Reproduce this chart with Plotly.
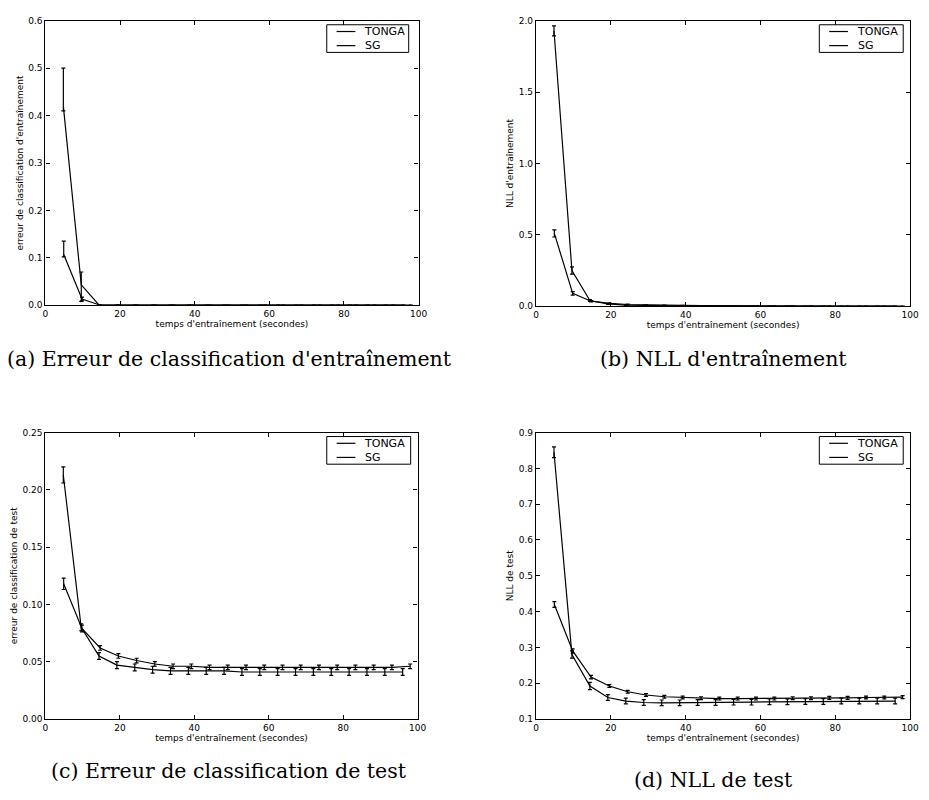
import plotly.graph_objects as go

# ---------------- data ----------------
x_tonga = [4.8, 9.6, 14.4, 19.2, 24.0, 28.8, 33.6, 38.4, 43.2, 48.0, 52.8, 57.6, 62.4, 67.2, 72.0, 76.8, 81.6, 86.4, 91.2, 96.0]
x_sg = [4.9, 9.8, 14.7, 19.6, 24.5, 29.4, 34.3, 39.2, 44.1, 49.0, 53.9, 58.8, 63.7, 68.6, 73.5, 78.4, 83.3, 88.2, 93.1, 98.0]

# (a) training classification error
a_tonga = [0.42, 0.043, 0.0, 0.0, 0.0, 0.0, 0.0, 0.0, 0.0, 0.0, 0.0, 0.0, 0.0, 0.0, 0.0, 0.0, 0.0, 0.0, 0.0, 0.0]
a_tonga_up = [0.08, 0.027, 0, 0, 0, 0, 0, 0, 0, 0, 0, 0, 0, 0, 0, 0, 0, 0, 0, 0]
a_tonga_dn = [0.01, 0.035, 0, 0, 0, 0, 0, 0, 0, 0, 0, 0, 0, 0, 0, 0, 0, 0, 0, 0]
a_sg = [0.107, 0.013, 0.0, 0.0, 0.0, 0.0, 0.0, 0.0, 0.0, 0.0, 0.0, 0.0, 0.0, 0.0, 0.0, 0.0, 0.0, 0.0, 0.0, 0.0]
a_sg_up = [0.028, 0.004, 0, 0, 0, 0, 0, 0, 0, 0, 0, 0, 0, 0, 0, 0, 0, 0, 0, 0]
a_sg_dn = [0.005, 0.004, 0, 0, 0, 0, 0, 0, 0, 0, 0, 0, 0, 0, 0, 0, 0, 0, 0, 0]

# (b) training NLL
b_tonga = [1.93, 0.25, 0.040, 0.016, 0.008, 0.005, 0.003, 0.002, 0.002, 0.001, 0.001, 0.001, 0.001, 0.001, 0.0005, 0.0005, 0.0005, 0.0005, 0.0005, 0.0005]
b_tonga_err = [0.035, 0.025, 0.006, 0.003, 0.002, 0.001, 0.001, 0.0, 0.0, 0.0, 0.0, 0.0, 0.0, 0.0, 0.0, 0.0, 0.0, 0.0, 0.0, 0.0]
b_sg = [0.51, 0.09, 0.035, 0.020, 0.012, 0.008, 0.006, 0.005, 0.004, 0.003, 0.003, 0.002, 0.002, 0.002, 0.002, 0.001, 0.001, 0.001, 0.001, 0.001]
b_sg_err = [0.025, 0.012, 0.005, 0.003, 0.002, 0.001, 0.001, 0.0, 0.0, 0.0, 0.0, 0.0, 0.0, 0.0, 0.0, 0.0, 0.0, 0.0, 0.0, 0.0]

# (c) test classification error
c_tonga = [0.213, 0.080, 0.055, 0.047, 0.045, 0.043, 0.042, 0.042, 0.042, 0.042, 0.041, 0.041, 0.041, 0.041, 0.041, 0.041, 0.041, 0.041, 0.041, 0.041]
c_tonga_err = [0.007, 0.003, 0.003, 0.003, 0.003, 0.003, 0.003, 0.003, 0.003, 0.003, 0.003, 0.003, 0.003, 0.003, 0.003, 0.003, 0.003, 0.003, 0.003, 0.003]
c_sg = [0.118, 0.079, 0.062, 0.055, 0.051, 0.048, 0.046, 0.046, 0.045, 0.045, 0.045, 0.045, 0.045, 0.045, 0.045, 0.045, 0.045, 0.045, 0.045, 0.046]
c_sg_err = [0.005, 0.003, 0.002, 0.002, 0.002, 0.002, 0.002, 0.002, 0.002, 0.002, 0.002, 0.002, 0.002, 0.002, 0.002, 0.002, 0.002, 0.002, 0.002, 0.002]

# (d) test NLL
d_tonga = [0.845, 0.28, 0.192, 0.160, 0.150, 0.146, 0.145, 0.145, 0.146, 0.146, 0.147, 0.147, 0.148, 0.148, 0.149, 0.149, 0.150, 0.150, 0.150, 0.150]
d_tonga_err = [0.015, 0.010, 0.010, 0.008, 0.008, 0.008, 0.008, 0.008, 0.008, 0.008, 0.008, 0.008, 0.008, 0.008, 0.008, 0.008, 0.008, 0.008, 0.008, 0.008]
d_sg = [0.420, 0.290, 0.217, 0.192, 0.176, 0.167, 0.162, 0.160, 0.158, 0.157, 0.157, 0.157, 0.157, 0.158, 0.158, 0.159, 0.159, 0.160, 0.160, 0.161]
d_sg_err = [0.008, 0.006, 0.005, 0.004, 0.004, 0.004, 0.004, 0.004, 0.004, 0.004, 0.004, 0.004, 0.004, 0.004, 0.004, 0.004, 0.004, 0.004, 0.004, 0.004]

series_names = ["TONGA", "SG"]
y_titles = ["erreur de classification d'entraînement", "NLL d'entraînement",
            "erreur de classification de test", "NLL de test"]
x_title = "temps d'entraînement (secondes)"
captions = ["(a) Erreur de classification d'entraînement", "(b) NLL d'entraînement",
            "(c) Erreur de classification de test", "(d) NLL de test"]
y_ranges = [[0, 0.6], [0, 2.0], [0, 0.25], [0.1, 0.9]]
y_tickvals = [[0.0, 0.1, 0.2, 0.3, 0.4, 0.5, 0.6], [0.0, 0.5, 1.0, 1.5, 2.0],
              [0.0, 0.05, 0.10, 0.15, 0.20, 0.25], [0.1, 0.2, 0.3, 0.4, 0.5, 0.6, 0.7, 0.8, 0.9]]
y_ticktext = [["0.0", "0.1", "0.2", "0.3", "0.4", "0.5", "0.6"], ["0.0", "0.5", "1.0", "1.5", "2.0"],
              ["0.00", "0.05", "0.10", "0.15", "0.20", "0.25"],
              ["0.1", "0.2", "0.3", "0.4", "0.5", "0.6", "0.7", "0.8", "0.9"]]
x_tickvals = [0, 20, 40, 60, 80, 100]

# ---------------- layout geometry (pixels) ----------------
W, H = 929, 800
boxes = [  # left, right, top, bottom
    (43, 421, 16, 304),
    (540, 919, 16, 305),
    (43, 420, 433, 723),
    (540, 919, 433, 723),
]
# legend boxes: left, right, top, bottom
legend_boxes = [
    (328, 411, 20, 48),
    (827, 912, 20, 48),
    (328, 413, 437, 465),
    (827, 912, 437, 465),
]
legend_font = 11
row_gap = 1.3 * legend_font
caption_pos = [(229, 358), (730, 358), (229, 776), (720, 785)]

series = [
    (a_tonga, a_tonga_up, a_tonga_dn, a_sg, a_sg_up, a_sg_dn),
    (b_tonga, b_tonga_err, b_tonga_err, b_sg, b_sg_err, b_sg_err),
    (c_tonga, c_tonga_err, c_tonga_err, c_sg, c_sg_err, c_sg_err),
    (d_tonga, d_tonga_err, d_tonga_err, d_sg, d_sg_err, d_sg_err),
]


def px(x):
    return x / W


def py(y):
    return 1 - y / H


fig = go.Figure()
tick_font = dict(family="DejaVu Sans", size=9, color="black")
layout = dict(width=W, height=H, margin=dict(l=0, r=0, t=0, b=0),
              paper_bgcolor="white", plot_bgcolor="white", showlegend=False,
              annotations=[], shapes=[])

for i in range(4):
    sfx = "" if i == 0 else str(i + 1)
    ty, tup, tdn, sy, sup, sdn = series[i]
    fig.add_trace(go.Scatter(
        x=x_tonga, y=ty, mode="lines", name=series_names[0],
        line=dict(color="black", width=1.2),
        error_y=dict(type="data", array=tup, arrayminus=tdn, symmetric=False,
                     color="black", thickness=1.2, width=2),
        xaxis="x" + sfx, yaxis="y" + sfx))
    fig.add_trace(go.Scatter(
        x=x_sg, y=sy, mode="lines", name=series_names[1],
        line=dict(color="black", width=1.2),
        error_y=dict(type="data", array=sup, arrayminus=sdn, symmetric=False,
                     color="black", thickness=1.2, width=2),
        xaxis="x" + sfx, yaxis="y" + sfx))

    l, r, t, b = boxes[i]
    layout["xaxis" + sfx] = dict(
        domain=[px(l), px(r)], anchor="y" + sfx, range=[0, 100],
        tickvals=x_tickvals, ticks="inside", ticklen=4, tickwidth=1, tickcolor="black",
        showline=True, linecolor="black", linewidth=1.2, mirror="ticks",
        showgrid=False, zeroline=False, tickfont=tick_font,
        title=dict(text=x_title, font=dict(family="DejaVu Sans", size=9, color="black"), standoff=0))
    layout["yaxis" + sfx] = dict(
        domain=[py(b), py(t)], anchor="x" + sfx, range=y_ranges[i],
        tickvals=y_tickvals[i], ticktext=y_ticktext[i],
        ticks="inside", ticklen=4, tickwidth=1, tickcolor="black",
        showline=True, linecolor="black", linewidth=1.2, mirror="ticks",
        showgrid=False, zeroline=False, tickfont=tick_font,
        title=dict(text=y_titles[i], font=dict(family="DejaVu Sans", size=9, color="black"), standoff=3))

    # legend drawn by hand (box, line samples, one two-line label)
    bl, br, bt, bb = legend_boxes[i]
    mid = (bt + bb) / 2
    layout["shapes"].append(dict(type="rect", xref="paper", yref="paper",
                                 x0=px(bl), x1=px(br), y0=py(bb), y1=py(bt),
                                 line=dict(color="black", width=1), fillcolor="white", layer="above"))
    for ry in (mid - row_gap / 2, mid + row_gap / 2):
        layout["shapes"].append(dict(type="line", xref="paper", yref="paper",
                                     x0=px(bl + 10), x1=px(bl + 29), y0=py(ry), y1=py(ry),
                                     line=dict(color="black", width=1.2), layer="above"))
    layout["annotations"].append(dict(
        text="<br>".join(series_names), x=px(bl + 36), y=py(mid), xref="paper", yref="paper",
        xanchor="left", yanchor="middle", align="left", showarrow=False,
        font=dict(family="DejaVu Sans", size=legend_font, color="black")))

    cx, cy = caption_pos[i]
    layout["annotations"].append(dict(
        text=captions[i], x=px(cx), y=py(cy), xref="paper", yref="paper",
        xanchor="center", yanchor="middle", showarrow=False,
        font=dict(family="DejaVu Serif", size=20.5, color="black")))

fig.update_layout(**layout)
fig.write_html("out.html")
